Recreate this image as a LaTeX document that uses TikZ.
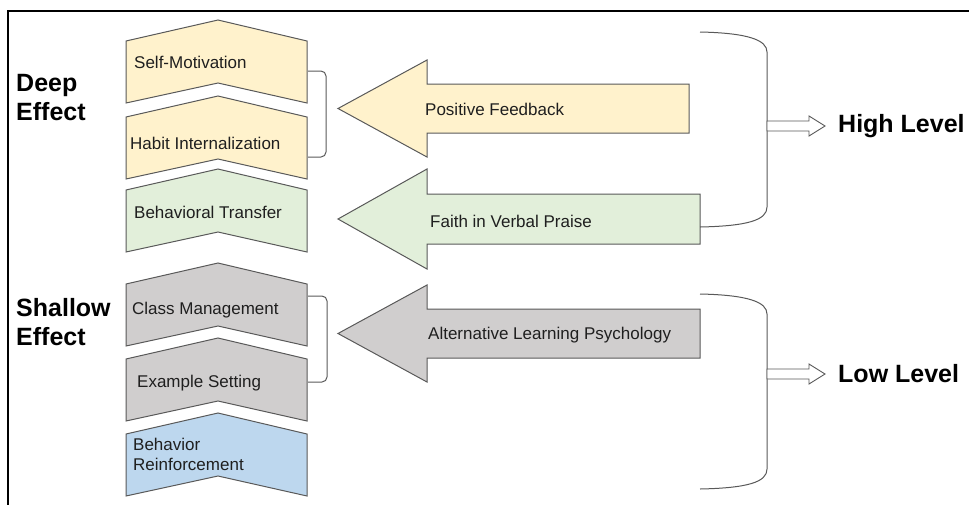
\documentclass[tikz,border=0pt]{standalone}
\usepackage{fontspec}
\setmainfont{Liberation Sans}
\definecolor{cyellow}{HTML}{FFF2CC}
\definecolor{cgreen}{HTML}{E2EFDA}
\definecolor{cgray}{HTML}{D0CECE}
\definecolor{cblue}{HTML}{BDD7EE}
\definecolor{cline}{HTML}{595959}
\newcommand{\chevronshape}[2]{%
  \filldraw[chevbox, fill=#2] (126,{#1+21}) -- (218,#1) -- (307,{#1+21}) -- (307,{#1+83}) -- (218,{#1+63}) -- (126,{#1+83}) -- cycle;}
\newcommand{\blockarrow}[6]{% #1 head top, #2 shaft top, #3 shaft bottom, #4 head bottom, #5 right end, #6 fill
  \filldraw[arrowbox, fill=#6] (338,{(#1+#4)/2}) -- (427,#1) -- (427,#2) -- (#5,#2) -- (#5,#3) -- (427,#3) -- (427,#4) -- cycle;}
\tikzset{
  chevbox/.style={draw=cline, line width=1pt, line join=miter},
  arrowbox/.style={draw=cline, line width=1pt},
  itemtext/.style={anchor=west, inner sep=0pt, font=\fontsize{17}{20}\selectfont, text=black!88},
  bigtext/.style={anchor=west, inner sep=0pt, font=\fontsize{25}{29}\selectfont\bfseries, align=left},
  bracketline/.style={draw=cline, line width=1pt},
  hollowarrow/.style={draw=cline, line width=0.9pt, fill=white},
}
\begin{document}
\begin{tikzpicture}[x=1pt, y=-1pt]
\useasboundingbox (0,0) rectangle (969,504);
\clip (0,0) rectangle (969,504);
% frame
\draw[line width=2pt] (8,520) -- (8,11) -- (980,11);

% chevrons
\chevronshape{20}{cyellow}
\chevronshape{96}{cyellow}
\chevronshape{169}{cgreen}
\chevronshape{263}{cgray}
\chevronshape{338}{cgray}
\chevronshape{413}{cblue}

\node[itemtext] (selfmot) at (134,62) {Self-Motivation};
\node[itemtext] (habit) at (130,143) {Habit Internalization};
\node[itemtext] (transfer) at (134,212) {Behavioral Transfer};
\node[itemtext] (classm) at (132,310) {Class Management};
\node[itemtext] (example) at (137,383) {Example Setting};
\node[itemtext, align=left, font=\fontsize{17}{20}\selectfont] (reinf) at (133,454) {Behavior\\Reinforcement};

% left labels
\node[bigtext] (deep) at (16,98) {Deep\\Effect};
\node[bigtext] (shallow) at (16,322) {Shallow\\Effect};

% small brackets
\draw[bracketline, rounded corners=5pt] (308,71) -- (326,71) -- (326,157) -- (308,157);
\draw[bracketline, rounded corners=5pt] (308,296) -- (327,296) -- (327,382) -- (308,382);

% block arrows
\blockarrow{60}{84}{133}{157}{689}{cyellow}
\blockarrow{169}{194}{244}{269}{700}{cgreen}
\blockarrow{285}{309}{358}{382}{700}{cgray}

\node[itemtext] (posfb) at (425,109) {Positive Feedback};
\node[itemtext] (faith) at (430,221) {Faith in Verbal Praise};
\node[itemtext] (altlp) at (428,335) {Alternative Learning Psychology};

% big brackets
\coordinate (bt1) at (700,32);
\coordinate (bb1) at (700,227);
\draw[bracketline] (bt1) .. controls (748,33) and (767,40) .. (767,52) -- (767,207) .. controls (767,220) and (748,226) .. (bb1);
\coordinate (bt2) at (700,294);
\coordinate (bb2) at (700,489);
\draw[bracketline] (bt2) .. controls (748,295) and (767,302) .. (767,314) -- (767,469) .. controls (767,482) and (748,488) .. (bb2);

% hollow arrows
\filldraw[hollowarrow] (767,121) -- (809,121) -- (809,116) -- (825,126) -- (809,136) -- (809,131) -- (767,131) -- cycle;
\filldraw[hollowarrow] (767,369) -- (809,369) -- (809,364) -- (825,374) -- (809,384) -- (809,379) -- (767,379) -- cycle;

\node[bigtext] (high) at (838,126) {High Level};
\node[bigtext] (low) at (838,374) {Low Level};
\end{tikzpicture}
\end{document}
